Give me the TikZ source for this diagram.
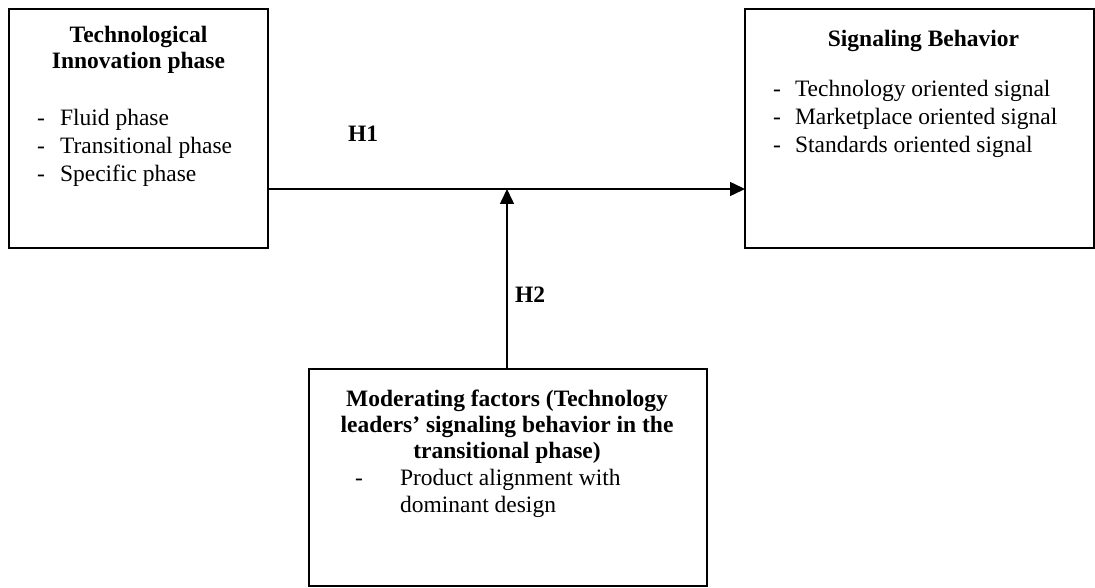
\documentclass[tikz,border=0pt]{standalone}
\usepackage{fontspec}
\setmainfont{Liberation Serif}
\usetikzlibrary{arrows.meta}
\begin{document}
\begin{tikzpicture}[x=1pt,y=-1pt,
  box/.style={draw=black,line width=2pt,inner sep=0pt,outer sep=0pt},
  txt/.style={inner sep=0pt,outer sep=0pt,font=\fontsize{23.5}{28}\selectfont},
  btxt/.style={txt,font=\fontsize{23.5}{28}\selectfont\bfseries},
  conn/.style={line width=1.5pt,-{Triangle[length=15pt,width=14pt]}}]
\useasboundingbox (0,0) rectangle (1095,588);
% boxes
\node[box,minimum width=259pt,minimum height=239pt] (lb) at (138.5,128.5) {};
\node[box,minimum width=349pt,minimum height=239pt] (rb) at (919.5,128.5) {};
\node[box,minimum width=398pt,minimum height=217pt] (bb) at (508,477.5) {};
% left box text
\node[btxt,anchor=base] (l1) at (138.5,43) {Technological};
\node[btxt,anchor=base] (l2) at (138.5,69) {Innovation phase};
\node[txt,anchor=base west] (ld1) at (37,126) {-};
\node[txt,anchor=base west] (lt1) at (60,126) {Fluid phase};
\node[txt,anchor=base west] (ld2) at (37,154) {-};
\node[txt,anchor=base west] (lt2) at (60,154) {Transitional phase};
\node[txt,anchor=base west] (ld3) at (37,182) {-};
\node[txt,anchor=base west] (lt3) at (60,182) {Specific phase};
% right box text
\node[btxt,anchor=base] (r1) at (923.5,47) {Signaling Behavior};
\node[txt,anchor=base west] (rd1) at (773,97) {-};
\node[txt,anchor=base west] (rt1) at (795,97) {Technology oriented signal};
\node[txt,anchor=base west] (rd2) at (773,125) {-};
\node[txt,anchor=base west] (rt2) at (795,125) {Marketplace oriented signal};
\node[txt,anchor=base west] (rd3) at (773,153) {-};
\node[txt,anchor=base west] (rt3) at (795,153) {Standards oriented signal};
% bottom box text
\node[btxt,anchor=base] (b1) at (507,406) {Moderating factors (Technology};
\node[btxt,anchor=base] (b2) at (507,432) {leaders’ signaling behavior in the};
\node[btxt,anchor=base] (b3) at (507,458) {transitional phase)};
\node[txt,anchor=base west] (bd1) at (355,485) {-};
\node[txt,anchor=base west] (bt1) at (400,485) {Product alignment with};
\node[txt,anchor=base west] (bt2) at (400,512) {dominant design};
% connectors
\coordinate (m) at (507,189);
\draw[conn] (lb.east |- m) -- (rb.west |- m);
\draw[conn] (bb.north -| m) -- (m);
\node[btxt,anchor=base west] (h1) at (348,142) {H1};
\node[btxt,anchor=base west] (h2) at (515,302) {H2};
\end{tikzpicture}
\end{document}
